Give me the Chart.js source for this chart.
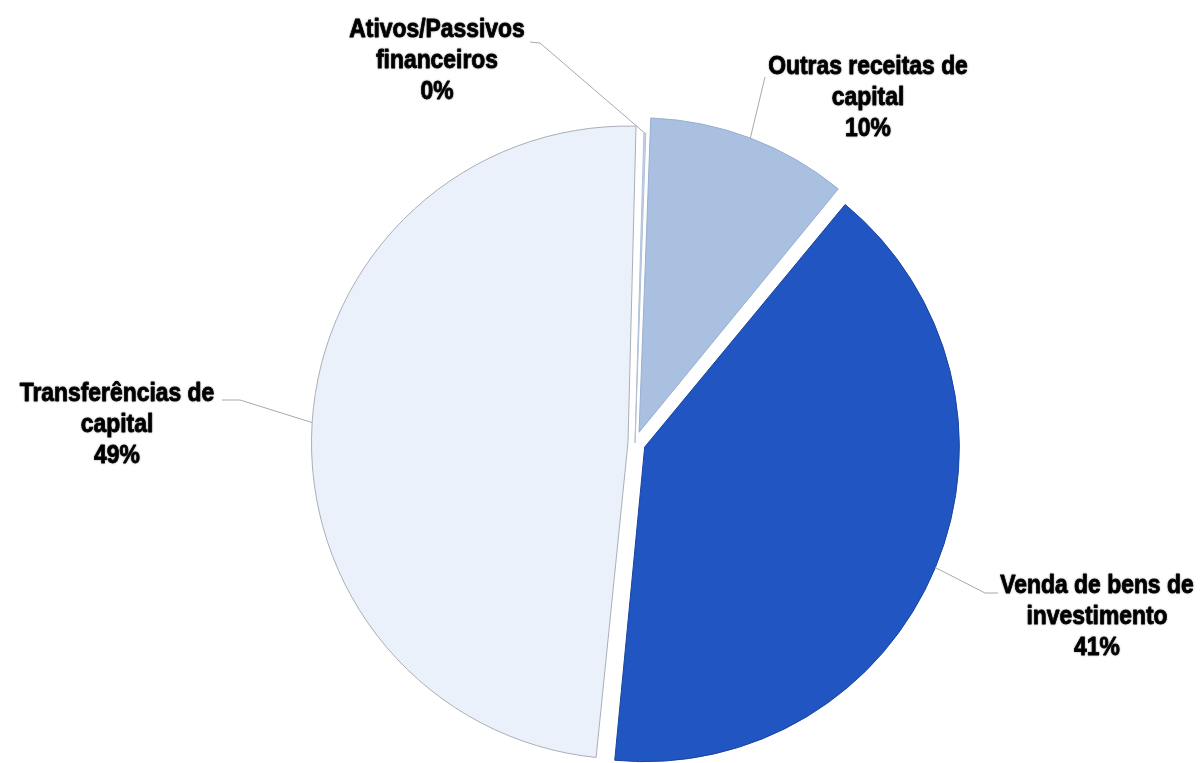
<!DOCTYPE html>
<html><head><meta charset="utf-8">
<script src="https://cdn.jsdelivr.net/npm/chart.js@4.4.1/dist/chart.umd.min.js"></script>
<style>html,body{margin:0;padding:0;background:#fff;overflow:hidden}#wrap{width:1200px;height:763px;position:relative}</style>
</head><body><div id="wrap"><canvas id="c" width="1200" height="763"></canvas></div>
<script>
// Data (clockwise from the top)
const categories = ['Outras receitas de capital', 'Venda de bens de investimento', 'Transferências de capital', 'Ativos/Passivos financeiros'];
const labelLines = [['Outras receitas de', 'capital'], ['Venda de bens de', 'investimento'], ['Transferências de', 'capital'], ['Ativos/Passivos', 'financeiros']];
const shares = [10.4, 40.6, 48.9, 0.1];

// Styling
const fills = ['#a9c0e0', '#2155c2', '#eaf1fb', '#c7d5ea'];
const borders = ['#98aed0', '#18449f', '#a9aeb7', '#b0c0da'];
const explode = [46, 42, 28, 0];
const labelBoxes = [
  {x: 868, y: 67, lead: [[765, 77]]},
  {x: 1097, y: 586, lead: [[998, 593], [985, 593]]},
  {x: 117, y: 394, lead: [[222, 400], [240, 400]]},
  {x: 437, y: 30, lead: [[530, 42], [540, 43]]}
];
const textScaleX = 0.88;

const labelPlugin = {
  id: 'outLabels',
  afterDatasetsDraw(chart) {
    const ctx = chart.ctx;
    const meta = chart.getDatasetMeta(0);
    const data = chart.data.datasets[0].data;
    const total = data.reduce((a, b) => a + b, 0);
    meta.data.forEach((arc, i) => {
      const p = arc.getProps(['x', 'y', 'startAngle', 'endAngle', 'outerRadius', 'circumference'], true);
      const off = (arc.options.offset || 0) / 4;
      const fix = 1 - Math.sin(Math.min(Math.PI, p.circumference || 0));
      const mid = (p.startAngle + p.endAngle) / 2;
      const dist = off + p.outerRadius + off * fix;
      const ax = p.x + Math.cos(mid) * dist;
      const ay = p.y + Math.sin(mid) * dist;
      const box = labelBoxes[i];
      ctx.save();
      ctx.strokeStyle = '#a8a8a8';
      ctx.lineWidth = 1;
      ctx.beginPath();
      box.lead.forEach((pt, k) => k === 0 ? ctx.moveTo(pt[0], pt[1]) : ctx.lineTo(pt[0], pt[1]));
      ctx.lineTo(ax, ay);
      ctx.stroke();
      ctx.fillStyle = '#000';
      ctx.strokeStyle = '#000';
      ctx.lineWidth = 0.8;
      ctx.lineJoin = 'round';
      ctx.font = 'bold 26px "Liberation Sans", Arial, sans-serif';
      ctx.textAlign = 'center';
      ctx.textBaseline = 'middle';
      ctx.shadowColor = 'rgba(0,0,0,0.35)';
      ctx.shadowBlur = 2;
      const lines = labelLines[i].concat([Math.round(data[i] / total * 100) + '%']);
      ctx.translate(box.x, box.y);
      ctx.scale(textScaleX, 1);
      lines.forEach((ln, k) => { ctx.fillText(ln, 0, k * 31); ctx.strokeText(ln, 0, k * 31); });
      ctx.restore();
    });
  }
};

new Chart(document.getElementById('c'), {
  type: 'pie',
  data: {
    labels: categories,
    datasets: [{
      data: shares,
      backgroundColor: fills,
      borderColor: borders,
      borderWidth: 1,
      offset: explode,
      radius: 310,
      clip: false
    }]
  },
  options: {
    responsive: false,
    devicePixelRatio: 1,
    animation: false,
    rotation: 2,
    layout: {padding: {left: 70, top: 123, right: 0, bottom: 0}},
    plugins: {legend: {display: false}, tooltip: {enabled: false}}
  },
  plugins: [labelPlugin]
});
</script>
</body></html>
